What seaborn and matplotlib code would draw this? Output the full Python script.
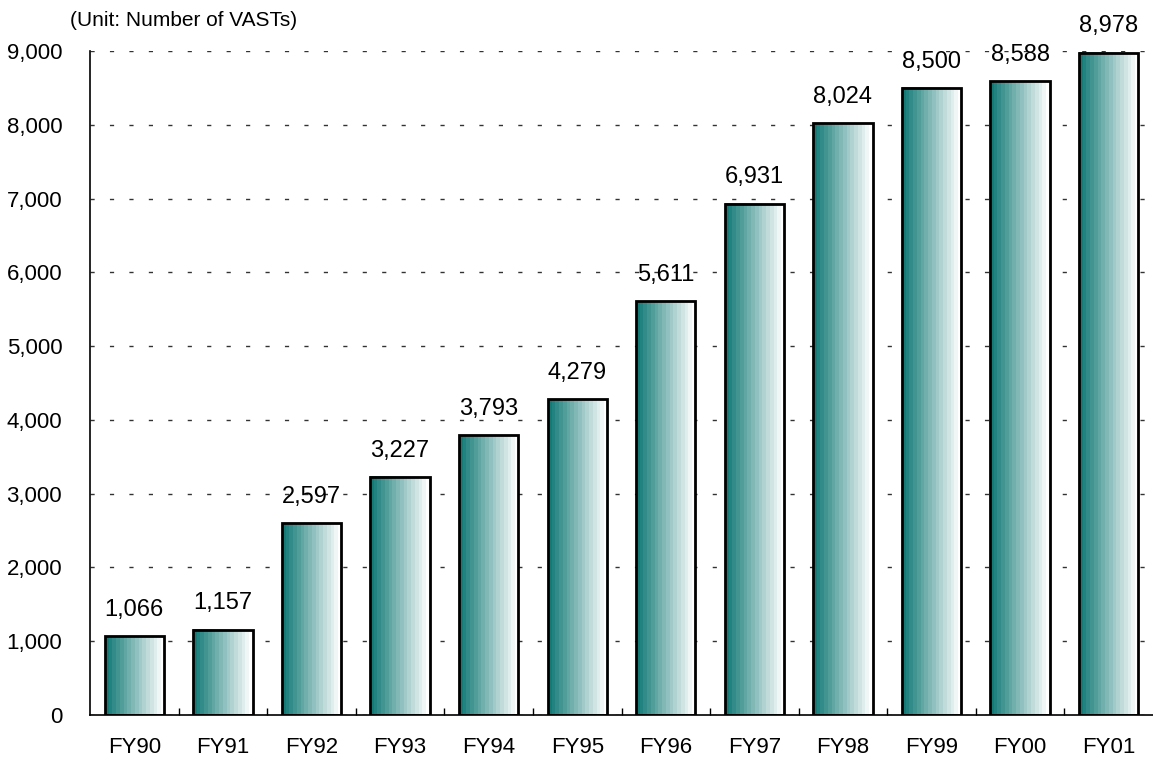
import numpy as np
import pandas as pd
import matplotlib
matplotlib.use('Agg')
import matplotlib.pyplot as plt
import seaborn as sns
from matplotlib.colors import LinearSegmentedColormap
from matplotlib.ticker import FuncFormatter, FixedLocator

# dados
anos = ['FY90', 'FY91', 'FY92', 'FY93', 'FY94', 'FY95',
        'FY96', 'FY97', 'FY98', 'FY99', 'FY00', 'FY01']
vasts = [1066, 1157, 2597, 3227, 3793, 4279,
         5611, 6931, 8024, 8500, 8588, 8978]

df = pd.DataFrame({'ano': anos, 'vasts': vasts})

sns.set_theme(style='white')
plt.rcParams['font.family'] = ['Liberation Sans', 'DejaVu Sans']

fig = plt.figure(figsize=(11.53, 7.62), dpi=100)
ax = fig.add_axes([90 / 1153, 1 - 715 / 762, 1063 / 1153, (715 - 51) / 762])

sns.barplot(data=df, x='ano', y='vasts', ax=ax, width=0.67,
            facecolor='none', edgecolor='black', linewidth=2, zorder=3)

# gradiente horizontal (verde-azulado -> branco) em faixas
cmap = LinearSegmentedColormap.from_list('teal', ['#137a76', '#ffffff'], N=16)
grad = np.linspace(0, 1, 256).reshape(1, -1)
for p in ax.patches:
    x0, y0 = p.get_x(), p.get_y()
    w, h = p.get_width(), p.get_height()
    ax.imshow(grad, cmap=cmap, aspect='auto', extent=[x0, x0 + w, y0, y0 + h],
              zorder=2, interpolation='nearest')

ax.set_xlim(-0.5, len(anos) - 0.5)
ax.set_ylim(0, 9000)
ax.set_yticks(range(0, 9001, 1000))
ax.yaxis.set_major_formatter(FuncFormatter(lambda v, _: f'{int(v):,}'))

# rótulos dos valores
for i, v in enumerate(vasts):
    ax.annotate(f'{v:,}', (i, v), xytext=(0, 11), textcoords='offset points',
                ha='center', va='bottom', fontsize=17, color='black')

# grade tracejada
ax.yaxis.grid(True, color='#333333', linewidth=1, linestyle=(0, (3, 11)), zorder=1)
ax.set_axisbelow(True)

for s in ['top', 'right']:
    ax.spines[s].set_visible(False)
for s in ['left', 'bottom']:
    ax.spines[s].set_color('black')
    ax.spines[s].set_linewidth(1.2)

ax.xaxis.set_minor_locator(FixedLocator(np.arange(0.5, len(anos) - 0.5, 1)))
ax.tick_params(axis='x', which='major', length=0, pad=16, labelsize=16, colors='black')
ax.tick_params(axis='x', which='minor', length=5, direction='in', width=1, color='black', bottom=True)
ax.tick_params(axis='y', length=0, pad=20, labelsize=16, colors='black')
ax.set_xlabel('')
ax.set_ylabel('')

fig.text(70 / 1153, 1 - 20 / 762, '(Unit: Number of VASTs)', fontsize=15,
         ha='left', va='center', color='black')

fig.savefig('out.png', dpi=100)
